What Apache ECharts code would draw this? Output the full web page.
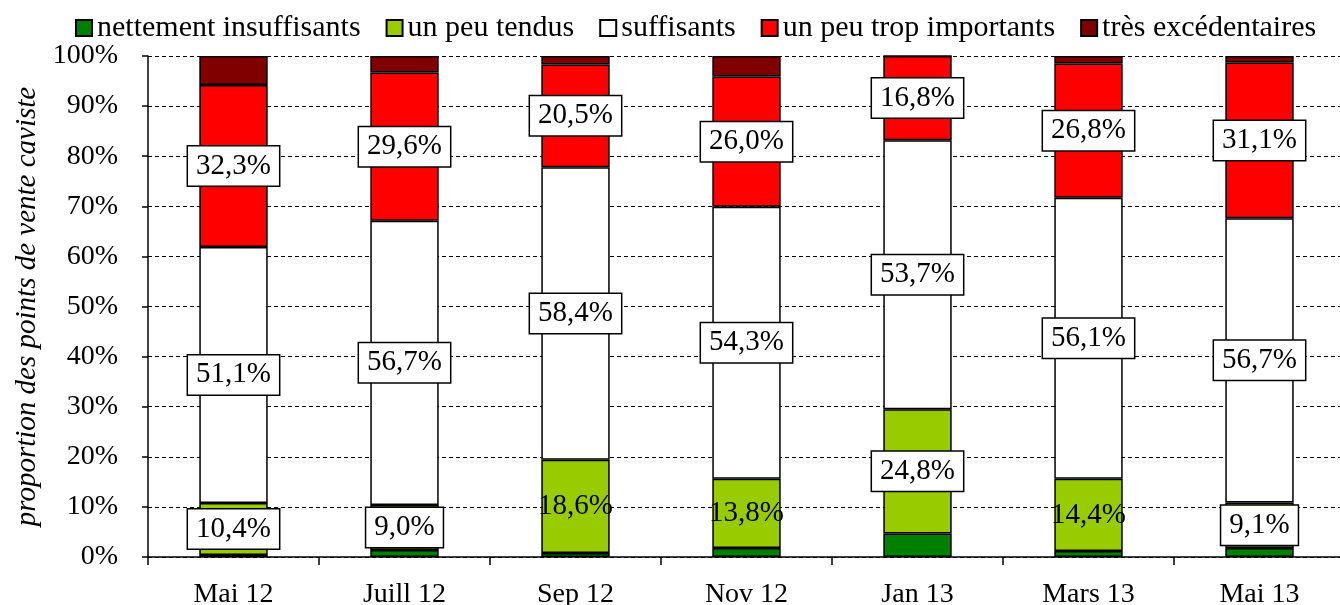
<!DOCTYPE html>
<html><head><meta charset="utf-8">
<script src="https://cdn.jsdelivr.net/npm/echarts@6/dist/echarts.min.js"></script>
<style>html,body{margin:0;padding:0;background:#fff}#c{width:1340px;height:605px}</style>
</head><body><div id="c"></div>
<script>
const categories = ['Mai 12','Juill 12','Sep 12','Nov 12','Jan 13','Mars 13','Mai 13'];
const seriesNames = ['nettement insuffisants','un peu tendus','suffisants','un peu trop importants','très excédentaires'];
const nettementInsuffisants = [0.4, 1.4, 0.8, 1.8, 4.7, 1.2, 1.8];
const unPeuTendus = [10.4, 9.0, 18.6, 13.8, 24.8, 14.4, 9.1];
const suffisants = [51.1, 56.7, 58.4, 54.3, 53.7, 56.1, 56.7];
const unPeuTropImportants = [32.3, 29.6, 20.5, 26.0, 16.8, 26.8, 31.1];
const tresExcedentaires = [5.8, 3.3, 1.7, 4.1, 0.0, 1.5, 1.3];
const yTicks = [0,10,20,30,40,50,60,70,80,90,100];
const unboxedTendus = [2, 3, 5]; // labels drawn without a box

const colors = ['#008000','#99CC00','#FFFFFF','#FF0000','#800000'];
const FONT = 'Liberation Serif, Times New Roman, serif';
const fmt = v => v.toFixed(1).replace('.', ',') + '%';

const boxLabel = {
  show: true, position: 'inside', color: '#000', fontFamily: FONT, fontSize: 29, lineHeight: 33,
  backgroundColor: '#fff', borderColor: '#000', borderWidth: 1.5, padding: [4, 8, 2, 8],
  formatter: p => fmt(p.value)
};
const plainLabel = Object.assign({}, boxLabel, {backgroundColor: 'transparent', borderWidth: 0});

function mk(i, arr, labelled) {
  const data = arr.map((v, j) => {
    if (i === 1 && unboxedTendus.includes(j)) return {value: v, label: plainLabel};
    return v;
  });
  return {
    name: seriesNames[i], type: 'bar', stack: 'all', barWidth: '40%',
    data: data,
    itemStyle: {color: colors[i], borderColor: '#000', borderWidth: 1.5},
    label: labelled ? boxLabel : {show: false},
    emphasis: {disabled: true}
  };
}

const chart = echarts.init(document.getElementById('c'), null, {renderer: 'canvas'});
chart.setOption({
  animation: false,
  legend: {
    top: 8, left: 70, itemWidth: 16, itemHeight: 16, itemGap: 25,
    textStyle: {fontFamily: FONT, fontSize: 30, color: '#000'},
    data: seriesNames.map(n => ({name: n, icon: 'rect'}))
  },
  grid: {left: 148, top: 56, width: 1197, height: 501, containLabel: false, outerBoundsMode: 'none'},
  xAxis: {
    type: 'category', data: categories,
    axisLine: {lineStyle: {color: '#000', width: 1.5}},
    axisTick: {show: true, length: 8, lineStyle: {color: '#000', width: 1.5}},
    axisLabel: {fontFamily: FONT, fontSize: 28, color: '#000', margin: 24}
  },
  yAxis: {
    type: 'value', min: 0, max: 100, interval: 10,
    name: 'proportion des points de vente caviste', nameLocation: 'middle', nameGap: 100, nameRotate: 90,
    nameTextStyle: {fontFamily: FONT, fontSize: 29, fontStyle: 'italic', color: '#000'},
    axisLine: {show: true, lineStyle: {color: '#000', width: 1.5}},
    axisTick: {show: true, length: 6, inside: false, lineStyle: {color: '#000', width: 1.5}},
    axisLabel: {fontFamily: FONT, fontSize: 28, color: '#000', margin: 30,
      formatter: v => yTicks.includes(v) ? v + '%' : ''},
    splitLine: {show: true, lineStyle: {color: '#000', type: [4, 3], width: 1}}
  },
  series: [
    mk(0, nettementInsuffisants, false),
    mk(1, unPeuTendus, true),
    mk(2, suffisants, true),
    mk(3, unPeuTropImportants, true),
    mk(4, tresExcedentaires, false)
  ]
});
</script></body></html>
